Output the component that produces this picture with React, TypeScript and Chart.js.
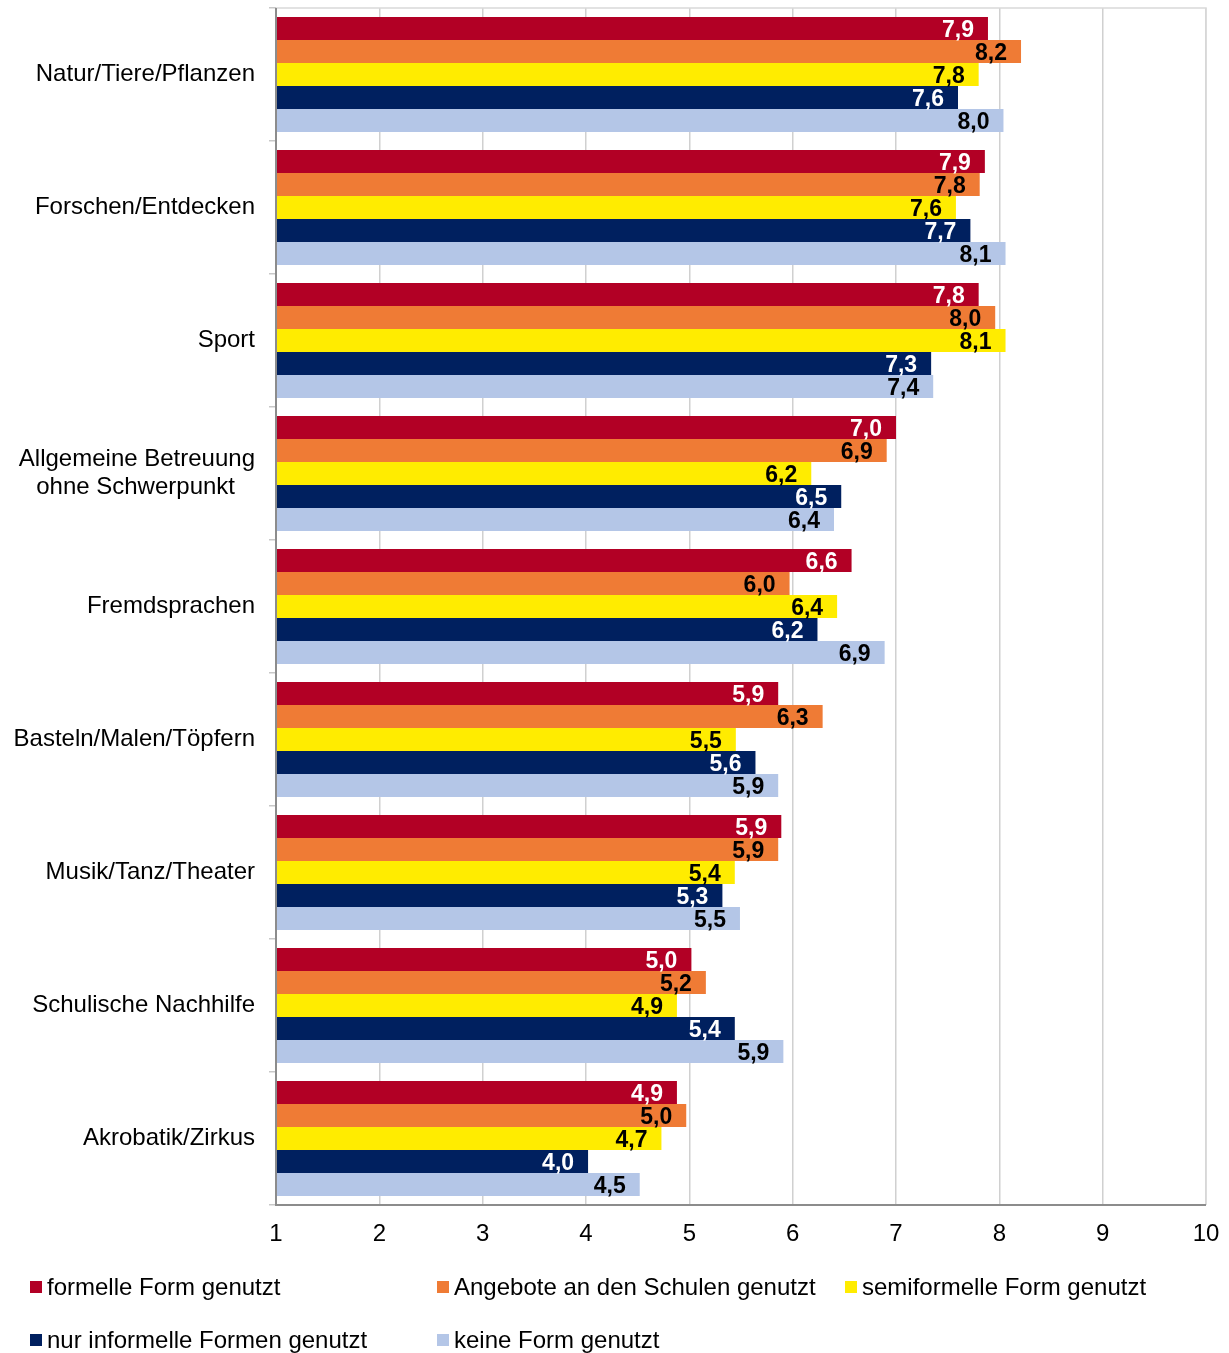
import React, { useEffect, useRef } from "react";
import { Chart, registerables } from "chart.js";

Chart.register(...registerables);

const categories: (string | string[])[] = [
  "Natur/Tiere/Pflanzen",
  "Forschen/Entdecken",
  "Sport",
  ["Allgemeine Betreuung", "ohne Schwerpunkt\u00A0\u00A0\u00A0"],
  "Fremdsprachen",
  "Basteln/Malen/Töpfern",
  "Musik/Tanz/Theater",
  "Schulische Nachhilfe",
  "Akrobatik/Zirkus",
];

const seriesNames = [
  "formelle Form genutzt",
  "Angebote an den Schulen genutzt",
  "semiformelle Form genutzt",
  "nur informelle Formen genutzt",
  "keine Form genutzt",
];

const formell = [7.89, 7.86, 7.8, 7.0, 6.57, 5.86, 5.89, 5.02, 4.88];
const schulen = [8.21, 7.81, 7.96, 6.91, 5.97, 6.29, 5.86, 5.16, 4.97];
const semiformell = [7.8, 7.58, 8.06, 6.18, 6.43, 5.45, 5.44, 4.88, 4.73];
const informell = [7.6, 7.72, 7.34, 6.47, 6.24, 5.64, 5.32, 5.44, 4.02];
const keine = [8.04, 8.06, 7.36, 6.4, 6.89, 5.86, 5.49, 5.91, 4.52];

const xTicks = [1, 2, 3, 4, 5, 6, 7, 8, 9, 10];

const colors = ["#B20025", "#EF7B35", "#FFEC00", "#00205F", "#B4C6E7"];
const labelColors = ["#ffffff", "#000000", "#000000", "#ffffff", "#000000"];

const FONT = "'Liberation Sans', Arial, sans-serif";

const barLabelPlugin = {
  id: "barLabels",
  afterDatasetsDraw(chart: any) {
    const ctx = chart.ctx;
    ctx.save();
    ctx.font = `bold 23px ${FONT}`;
    ctx.textAlign = "right";
    ctx.textBaseline = "middle";
    chart.data.datasets.forEach((ds: any, i: number) => {
      const meta = chart.getDatasetMeta(i);
      meta.data.forEach((bar: any, j: number) => {
        const v = ds.data[j] as number;
        const txt = v.toFixed(1).replace(".", ",");
        ctx.fillStyle = labelColors[i];
        ctx.fillText(txt, bar.x - 14, bar.y + 2);
      });
    });
    ctx.restore();
  },
};

const framePlugin = {
  id: "frame",
  beforeDatasetsDraw(chart: any) {
    const { ctx, chartArea: a } = chart;
    ctx.save();
    ctx.strokeStyle = "#d9d9d9";
    ctx.lineWidth = 1.5;
    ctx.beginPath();
    ctx.moveTo(a.left, a.top);
    ctx.lineTo(a.right, a.top);
    ctx.lineTo(a.right, a.bottom);
    ctx.stroke();
    ctx.restore();
  },
  afterDraw(chart: any) {
    const { ctx, chartArea: a } = chart;
    ctx.save();
    ctx.strokeStyle = "#8c8c8c";
    ctx.lineWidth = 2;
    ctx.beginPath();
    ctx.moveTo(a.left, a.top);
    ctx.lineTo(a.left, a.bottom);
    ctx.lineTo(a.right, a.bottom);
    ctx.stroke();
    // legend
    const pos = [
      [30, 1287],
      [437, 1287],
      [845, 1287],
      [30, 1340],
      [437, 1340],
    ];
    ctx.font = `24px ${FONT}`;
    ctx.textAlign = "left";
    ctx.textBaseline = "middle";
    seriesNames.forEach((name, i) => {
      const [x, y] = pos[i];
      ctx.fillStyle = colors[i];
      ctx.fillRect(x, y - 6, 12, 12);
      ctx.fillStyle = "#000000";
      ctx.fillText(name, x + 17, y + 1);
    });
    ctx.restore();
  },
};

export default function App() {
  const ref = useRef<HTMLCanvasElement | null>(null);
  useEffect(() => {
    document.body.style.margin = "0";
    const data = [formell, schulen, semiformell, informell, keine];
    const chart = new Chart(ref.current as HTMLCanvasElement, {
      type: "bar",
      data: {
        labels: categories,
        datasets: data.map((d, i) => ({
          label: seriesNames[i],
          data: d,
          backgroundColor: colors[i],
          borderWidth: 0,
          barPercentage: 1,
          categoryPercentage: 0.865,
        })),
      },
      options: {
        indexAxis: "y",
        animation: false,
        responsive: false,
        maintainAspectRatio: false,
        layout: { padding: { top: 8, right: 23, left: 0, bottom: 0 } },
        plugins: {
          legend: { display: false },
          tooltip: { enabled: false },
        },
        scales: {
          x: {
            type: "linear",
            min: 1,
            max: 10,
            afterFit: (s: any) => {
              s.height = 148;
              s.paddingLeft = 0;
              s.paddingRight = 0;
            },
            afterBuildTicks: (s: any) => {
              s.ticks = xTicks.map((v) => ({ value: v }));
            },
            grid: {
              color: "#d0d0d0",
              lineWidth: 1.5,
              drawTicks: false,
            },
            border: { display: false },
            ticks: {
              padding: 15,
              color: "#000",
              font: { family: FONT, size: 24 },
            },
          },
          y: {
            type: "category",
            afterFit: (s: any) => {
              s.width = 276;
              s.paddingTop = 0;
              s.paddingBottom = 0;
            },
            grid: {
              offset: true,
              drawOnChartArea: false,
              drawTicks: true,
              tickLength: 7,
              color: "#c8c8c8",
              lineWidth: 1.5,
            },
            border: { display: false },
            ticks: {
              padding: 14,
              color: "#000",
              font: { family: FONT, size: 24, lineHeight: 1.17 },
            },
          },
        },
      },
      plugins: [framePlugin, barLabelPlugin],
    });
    return () => chart.destroy();
  }, []);
  return <canvas ref={ref} width={1229} height={1353} style={{ display: "block" }} />;
}
